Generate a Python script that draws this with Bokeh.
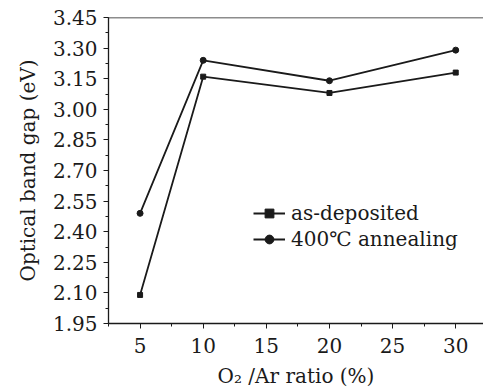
from bokeh.plotting import figure
from bokeh.models import FixedTicker, NumeralTickFormatter, Span, Legend, LegendItem, Range1d
from bokeh.embed import file_html
from bokeh.resources import INLINE

ratio = [5, 10, 20, 30]
as_deposited = [2.09, 3.16, 3.08, 3.18]
annealed_400 = [2.49, 3.24, 3.14, 3.29]
y_ticks = [1.95, 2.10, 2.25, 2.40, 2.55, 2.70, 2.85, 3.00, 3.15, 3.30, 3.45]
x_ticks = [5, 10, 15, 20, 25, 30]

FONT = "DejaVu Serif"
INK = "#1a1a1a"
FS = "20px"

p = figure(width=483, height=390, output_backend="svg", toolbar_location=None,
           x_range=Range1d(2.5, 32.2), y_range=Range1d(1.95, 3.45),
           min_border_left=108, min_border_right=0, min_border_top=17, min_border_bottom=66)
p.outline_line_color = None
p.grid.visible = False
p.background_fill_color = "white"
p.border_fill_color = "white"

p.xaxis.ticker = FixedTicker(ticks=x_ticks, minor_ticks=[2.5, 7.5, 12.5, 17.5, 22.5, 27.5, 32.5])
p.yaxis.ticker = FixedTicker(ticks=y_ticks, minor_ticks=[round(1.95 + 0.075 * i, 3) for i in range(21)])
p.yaxis.formatter = NumeralTickFormatter(format="0.00")

for ax in (p.xaxis[0], p.yaxis[0]):
    ax.axis_line_color = INK
    ax.axis_line_width = 1.3
    ax.major_tick_line_color = INK
    ax.minor_tick_line_color = INK
    ax.major_tick_in = 0
    ax.major_tick_out = 5
    ax.minor_tick_in = 0
    ax.minor_tick_out = 3
    ax.major_label_text_font = FONT
    ax.major_label_text_font_size = FS
    ax.major_label_text_color = INK
    ax.axis_label_text_font = FONT
    ax.axis_label_text_font_size = FS
    ax.axis_label_text_font_style = "normal"
    ax.axis_label_text_color = INK

p.xaxis.axis_label = "O\u2082 /Ar ratio (%)"
p.yaxis.axis_label = "Optical band gap (eV)"
p.xaxis.major_label_standoff = 9
p.xaxis.axis_label_standoff = 8
p.yaxis.major_label_standoff = 6
p.yaxis.axis_label_standoff = 10

p.add_layout(Span(location=3.45, dimension="width", line_color=INK, line_width=1.3))

l1 = p.line(ratio, as_deposited, line_color=INK, line_width=1.8)
m1 = p.scatter(ratio, as_deposited, marker="square", size=5, fill_color=INK, line_color=INK)
l2 = p.line(ratio, annealed_400, line_color=INK, line_width=1.8)
m2 = p.scatter(ratio, annealed_400, marker="circle", size=6, fill_color=INK, line_color=INK)

legend = Legend(items=[LegendItem(label="as-deposited", renderers=[l1, m1]),
                       LegendItem(label="400\u2103 annealing", renderers=[l2, m2])],
                location=(145, 72), padding=0, margin=0, spacing=2,
                glyph_width=32, glyph_height=22, label_standoff=6,
                border_line_color=None, background_fill_alpha=0,
                label_text_font=FONT, label_text_font_size=FS, label_text_color=INK)
p.add_layout(legend, "center")

open("out.html", "w").write(file_html(p, INLINE))
